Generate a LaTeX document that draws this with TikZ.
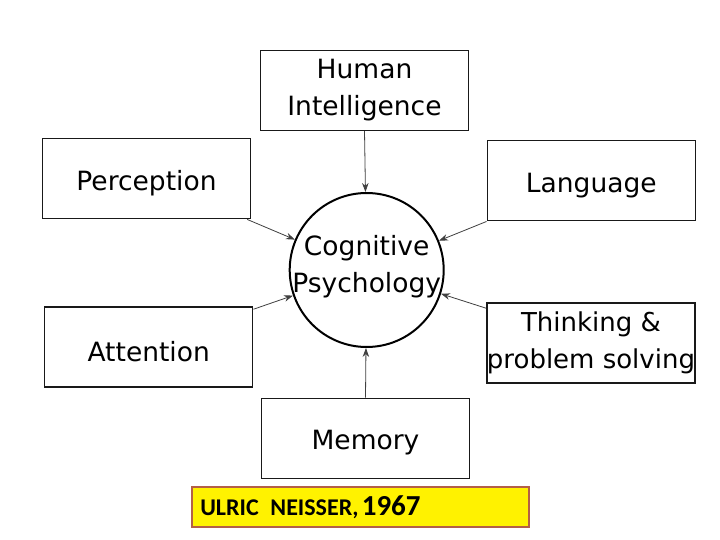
\documentclass[tikz,border=0pt]{standalone}
\usepackage{fontspec}
\setmainfont{DejaVu Sans}
\newfontfamily\carlito{Carlito}
\usetikzlibrary{arrows.meta}
\definecolor{nborder}{RGB}{180,95,70}
\tikzset{
  box/.style={draw=black!90, line width=1.5pt, minimum width=208pt, minimum height=80pt,
    inner sep=0pt, align=center, font=\fontsize{26.5}{36.6}\selectfont,
    execute at begin node=\rule{0pt}{28.5pt}},
  twoline/.style={execute at begin node=\rule{0pt}{34.5pt}},
  core/.style={draw, circle, line width=2pt, minimum size=154pt, inner sep=-20pt,
    align=center, font=\fontsize{26.5}{36.6}\selectfont,
    execute at end node=\rule[-12pt]{0pt}{12pt}},
  conn/.style={draw=black!75, line width=0.8pt, -{Stealth[length=9pt,width=6.5pt]}},
  tag/.style={draw=nborder, fill=yellow, line width=2pt, text width=320pt, inner sep=8.5pt,
    minimum height=40.6pt, align=left, font=\carlito\bfseries}
}
\begin{document}
\begin{tikzpicture}[x=1pt,y=-1pt]
  \useasboundingbox[fill=white] (0,0) rectangle (720,540);
  \draw
    (364.5,90.3) node[box,twoline] (hi){Human\\Intelligence}
    (146.5,178.7) node[box] (perc){Perception}
    (591.3,180.7) node[box] (lang){Language}
    (366.7,270) node[core] (cp){Cognitive\\Psychology}
    (148.7,347) node[box] (att){Attention}
    (591,343) node[box,twoline,font=\fontsize{26}{36.6}\selectfont] (think){Thinking \&\\problem solving}
    (365.5,438.3) node[box] (mem){Memory}
    (360.3,507) node[tag] (neisser){\fontsize{24}{28}\selectfont ULRIC\hspace{0.35em} NEISSER, \fontsize{29}{28}\selectfont 1967};
  \begin{scope}[conn]
    \draw (hi.south) to (cp);
    \draw (mem.north) to (cp);
    \draw ([xshift=-4pt]perc.south east) to[shorten >=7pt] (cp);
    \draw (lang.south west) to[shorten >=7pt] (cp);
    \draw ([yshift=-3pt]att.north east) to[shorten >=7pt] (cp);
    \draw ([yshift=-6pt]think.north west) to[shorten >=7pt] (cp);
  \end{scope}
\end{tikzpicture}
\end{document}
